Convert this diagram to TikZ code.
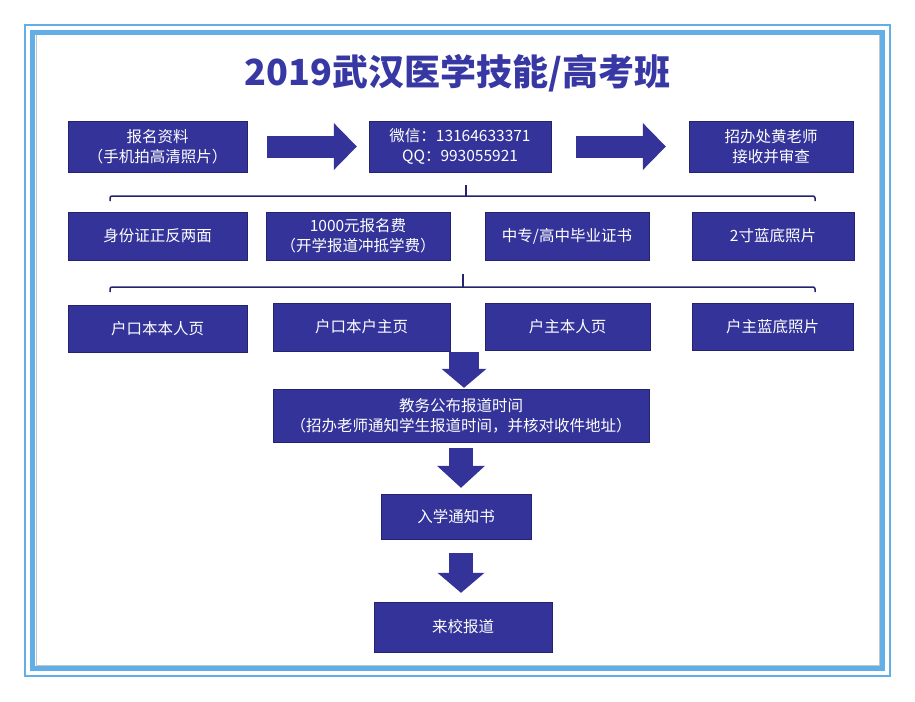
\documentclass[tikz,border=0pt]{standalone}
\usepackage{fontspec}
\setmainfont{Noto Sans CJK SC}
\usetikzlibrary{arrows.meta,positioning,calc}
\definecolor{boxfill}{HTML}{333399}
\definecolor{boxline}{HTML}{23236E}
\definecolor{framesky}{HTML}{62AFE8}
\definecolor{titleblue}{HTML}{3838A4}

\begin{document}
\begin{tikzpicture}[x=1pt,y=-1pt,
  stepbox/.style={draw=boxline,fill=boxfill,text=white,align=center,inner sep=0pt,
                  font=\fontsize{15.5}{20}\selectfont},
  fatarrow/.style n args={3}{draw=boxfill,line width=#1,
                  -{Triangle[width=#2,length=#3,line width=0pt]}},
  bracket/.style={draw=boxline,line width=1.5pt,rounded corners=2pt}
]
\useasboundingbox (0,0) rectangle (915,701);
% frame
\draw[framesky,line width=2pt] (25,25) rectangle (890,676);
\draw[framesky,line width=5pt] (32.5,32.5) rectangle (882.5,668);
\draw[gray!45,line width=1pt] (36,35) -- (36,665) -- (879,665) -- (879,35);

\node[font=\fontsize{36}{40}\selectfont\bfseries,text=titleblue] (title) at (457.5,73.5)
  {2019武汉医学技能/高考班};

% first row
\node[stepbox,minimum width=179pt,minimum height=51pt] (req) at (157.5,146.5)
  {报名资料\\（手机拍高清照片）};
\node[stepbox,minimum width=182pt,minimum height=51pt] (wx) at (460,146.5)
  {微信：13164633371\\QQ：993055921};
\node[stepbox,minimum width=164pt,minimum height=51pt] (chk) at (771,146.5)
  {招办处黄老师\\接收并审查};
\draw[fatarrow={22pt}{47pt}{23pt}] ([xshift=20pt]req.east) -- ([xshift=-12pt]wx.west);
\draw[fatarrow={22pt}{47pt}{23pt}] ([xshift=25pt]wx.east) -- ([xshift=-23pt]chk.west);

% documents
\coordinate (b1l) at (110,196);
\coordinate (b1r) at (815,196);
\coordinate (b1m) at (466,196);
\draw[bracket] ([yshift=-5pt]b1l) -- (b1l) -- (b1r) -- ([yshift=-5pt]b1r);
\draw[bracket] (b1m) -- ++(0,-11);

\node[stepbox,minimum width=179pt,minimum height=48pt] (id) at (157.5,236) {身份证正反两面};
\node[stepbox,minimum width=184pt,minimum height=48pt] (fee) at (358,236)
  {1000元报名费\\（开学报道冲抵学费）};
\node[stepbox,minimum width=164pt,minimum height=48pt] (dip) at (567,236) {中专/高中毕业证书};
\node[stepbox,minimum width=162pt,minimum height=48pt] (pho) at (773,236) {2寸蓝底照片};

\coordinate (b2l) at (110,287);
\coordinate (b2r) at (815,287);
\coordinate (b2m) at (463,287);
\draw[bracket] ([yshift=-5pt]b2l) -- (b2l) -- (b2r) -- ([yshift=-5pt]b2r);
\draw[bracket] (b2m) -- ++(0,-13);

\node[stepbox,minimum width=179pt,minimum height=47pt] (hk1) at (157.5,328.5) {户口本本人页};
\node[stepbox,minimum width=177pt,minimum height=48pt] (hk2) at (361.5,327) {户口本户主页};
\node[stepbox,minimum width=165pt,minimum height=47pt] (hk3) at (567.5,326.5) {户主本人页};
\node[stepbox,minimum width=161pt,minimum height=47pt] (hk4) at (772.5,326.5) {户主蓝底照片};

% registration
\node[stepbox,minimum width=376pt,minimum height=53pt] (notice) at (461,415.5)
  {教务公布报道时间\\（招办老师通知学生报道时间，并核对收件地址）};
\node[stepbox,minimum width=150pt,minimum height=45pt] (admit) at (456,516.5) {入学通知书};
\node[stepbox,minimum width=178pt,minimum height=50pt] (arrive) at (463,627) {来校报道};

\coordinate (d1s) at ($(notice.north |- hk2.south)+(3,0.5)$);
\coordinate (d1e) at ($(notice.north)+(3,-1)$);
\coordinate (d2s) at ($(notice.south)+(0,6)$);
\coordinate (d2e) at ($(notice.south |- admit.north)+(0,-6)$);
\coordinate (d3s) at ($(notice.south |- admit.south)+(0,14)$);
\coordinate (d3e) at ($(notice.south |- arrive.north)+(0,-9)$);
\draw[fatarrow={30pt}{45pt}{19pt}] (d1s) -- (d1e);
\draw[fatarrow={24pt}{48pt}{22pt}] (d2s) -- (d2e);
\draw[fatarrow={24pt}{47pt}{20pt}] (d3s) -- (d3e);
\end{tikzpicture}
\end{document}
